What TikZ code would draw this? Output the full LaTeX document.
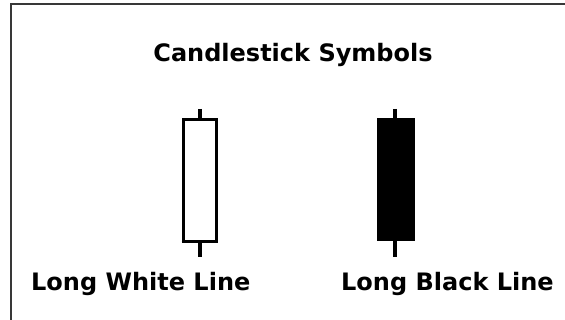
\documentclass[tikz,border=0pt]{standalone}
\usepackage{fontspec}
\setmainfont{DejaVu Sans}
\begin{document}
\begin{tikzpicture}[x=1pt,y=-1pt,
  lbl/.style={font=\fontsize{24}{28}\selectfont\bfseries, inner sep=0pt, text=black},
  frame/.style={draw=black!78, line width=2pt},
  wbody/.style={draw=black, fill=white, line width=3pt, minimum width=33pt, minimum height=122pt, inner sep=0pt},
  bbody/.style={draw=black, fill=black, line width=0pt, minimum width=37pt, minimum height=122pt, inner sep=0pt},
  wwick/.style={draw=black, line width=4.5pt},
  bwick/.style={draw=black, line width=3.5pt}]
\useasboundingbox (0,0) rectangle (565,320);
\fill[white] (0,0) rectangle (565,320);
% frame
\coordinate (fa) at (11,320);
\coordinate (fb) at (11,4);
\coordinate (fc) at (565,4);
\draw[frame] (fa) -- (fb) -- (fc);
% title
\node[lbl, anchor=base] (title) at (293,62) {Candlestick Symbols};
% white candle
\coordinate (wt) at (200,109);
\coordinate (wb) at (200,257);
\draw[wwick] (wt) -- (200,130);
\draw[wwick] (wb) -- (200,230);
\node[wbody] (wc) at (199.5,180.5) {};
\draw[black, line width=2pt] (wc.south west) ++(0,-1) -- ++(33,0);
% black candle
\coordinate (bt) at (395,109);
\coordinate (bb) at (395,257);
\draw[bwick] (bt) -- (bb);
\node[bbody] (bc) at (395.5,180) {};
% labels
\node[lbl, anchor=base west] (lw) at (31,291) {Long White Line};
\node[lbl, anchor=base west] (lb) at (341,291) {Long Black Line};
\end{tikzpicture}
\end{document}
